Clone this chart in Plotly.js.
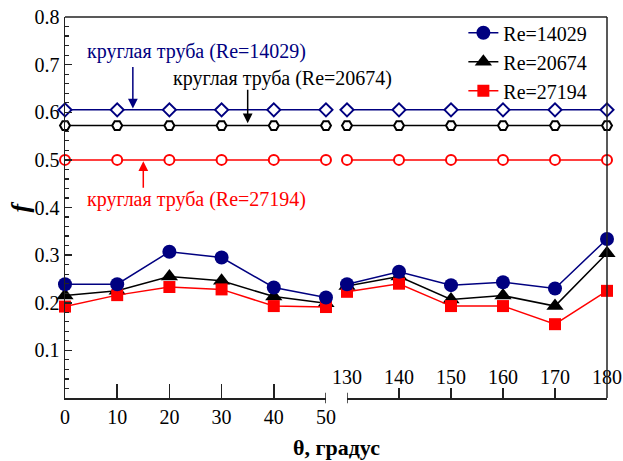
<!DOCTYPE html>
<html>
<head>
<meta charset="utf-8">
<script src="https://cdn.plot.ly/plotly-3.0.1.min.js"></script>
<style>html,body{margin:0;padding:0;background:#fff;}#chart{width:623px;height:461px;}</style>
</head>
<body>
<div id="chart"></div>
<script>
// ---- data ----
var thetaLeft = [0, 10, 20, 30, 40, 50];
var thetaRight = [130, 140, 150, 160, 170, 180];
var leftTickLabels = ['0', '10', '20', '30', '40', '50'];
var rightTickLabels = ['130', '140', '150', '160', '170', '180'];
var yTickVals = [0.1, 0.2, 0.3, 0.4, 0.5, 0.6, 0.7, 0.8];
var yTickLabels = ['0.1', '0.2', '0.3', '0.4', '0.5', '0.6', '0.7', '0.8'];

var re14029Left = [0.239, 0.239, 0.307, 0.295, 0.232, 0.211];
var re14029Right = [0.239, 0.265, 0.237, 0.243, 0.230, 0.334];
var re20674Left = [0.215, 0.225, 0.255, 0.246, 0.213, 0.199];
var re20674Right = [0.235, 0.255, 0.207, 0.215, 0.193, 0.304];
var re27194Left = [0.192, 0.216, 0.233, 0.228, 0.193, 0.191];
var re27194Right = [0.223, 0.240, 0.193, 0.193, 0.155, 0.225];

// circular pipe reference values
var pipe14029Left = [0.605, 0.605, 0.605, 0.605, 0.605, 0.605];
var pipe14029Right = [0.605, 0.605, 0.605, 0.605, 0.605, 0.605];
var pipe20674Left = [0.572, 0.572, 0.572, 0.572, 0.572, 0.572];
var pipe20674Right = [0.572, 0.572, 0.572, 0.572, 0.572, 0.572];
var pipe27194Left = [0.500, 0.500, 0.500, 0.500, 0.500, 0.500];
var pipe27194Right = [0.500, 0.500, 0.500, 0.500, 0.500, 0.500];

var seriesNames = ['Re=14029', 'Re=20674', 'Re=27194'];
var pipeLabels = ['круглая труба (Re=14029)', 'круглая труба (Re=20674)', 'круглая труба (Re=27194)'];

// ---- styles ----
var FONT = 'Liberation Serif';
var NAVY = '#000080';
var BLACK = '#000000';
var RED = '#ff0000';
var AX = '#222222';

function pipeTrace(x, y, color, symbol, xa) {
  return {
    x: x, y: y, xaxis: xa, yaxis: 'y', type: 'scatter', mode: 'lines+markers',
    showlegend: false, cliponaxis: false, hoverinfo: 'skip',
    line: {color: color, width: 1.5},
    marker: {symbol: symbol, size: 10, color: '#ffffff', line: {color: color, width: 2}}
  };
}
function dataTrace(x, y, name, color, symbol, size, xa, show, rank) {
  return {
    x: x, y: y, xaxis: xa, yaxis: 'y', type: 'scatter', mode: 'lines+markers',
    name: name, legendgroup: name, showlegend: show, legendrank: rank, cliponaxis: false,
    line: {color: color, width: 1.5},
    marker: {symbol: symbol, size: size, color: color, line: {width: 0}}
  };
}

var traces = [
  pipeTrace(thetaLeft, pipe14029Left, NAVY, 'diamond', 'x'),
  pipeTrace(thetaRight, pipe14029Right, NAVY, 'diamond', 'x2'),
  pipeTrace(thetaLeft, pipe20674Left, BLACK, 'hexagon2', 'x'),
  pipeTrace(thetaRight, pipe20674Right, BLACK, 'hexagon2', 'x2'),
  pipeTrace(thetaLeft, pipe27194Left, RED, 'circle', 'x'),
  pipeTrace(thetaRight, pipe27194Right, RED, 'circle', 'x2'),
  dataTrace(thetaLeft, re20674Left, seriesNames[1], BLACK, 'triangle-up', 15, 'x', true, 2),
  dataTrace(thetaRight, re20674Right, seriesNames[1], BLACK, 'triangle-up', 15, 'x2', false, 2),
  dataTrace(thetaLeft, re27194Left, seriesNames[2], RED, 'square', 12, 'x', true, 3),
  dataTrace(thetaRight, re27194Right, seriesNames[2], RED, 'square', 12, 'x2', false, 3),
  dataTrace(thetaLeft, re14029Left, seriesNames[0], NAVY, 'circle', 14, 'x', true, 1),
  dataTrace(thetaRight, re14029Right, seriesNames[0], NAVY, 'circle', 14, 'x2', false, 1),
  // invisible carrier for the upper tick-label axis of the right segment
  {x: [thetaRight[0], thetaRight[thetaRight.length - 1]], y: [null, null], xaxis: 'x3', yaxis: 'y',
   type: 'scatter', mode: 'markers', showlegend: false, hoverinfo: 'skip'}
];

var d1 = 0.4815, d2 = 0.5203;

var layout = {
  width: 623, height: 461,
  margin: {l: 65, r: 16, t: 17, b: 63},
  paper_bgcolor: '#ffffff', plot_bgcolor: '#ffffff',
  font: {family: FONT, size: 20, color: '#000'},
  showlegend: true,
  legend: {x: 0.735, y: 1.01, xanchor: 'left', yanchor: 'top', bgcolor: 'rgba(0,0,0,0)',
           font: {family: FONT, size: 20, color: '#000'}, tracegroupgap: 0, itemwidth: 30},
  xaxis: {
    domain: [0, d1], range: [0, 50], anchor: 'y',
    showline: true, linecolor: AX, linewidth: 1.5, showgrid: false, zeroline: false,
    tickmode: 'array', tickvals: thetaLeft, ticktext: leftTickLabels,
    ticks: 'inside', ticklen: 1, tickcolor: 'rgba(0,0,0,0)',
    minor: {tickmode: 'array', tickvals: [0, 10, 20, 30, 40], ticks: 'inside', ticklen: 14, tickwidth: 1.5, tickcolor: AX},
    tickfont: {family: FONT, size: 20, color: '#000'}
  },
  xaxis2: {
    domain: [d2, 1], range: [130, 180], anchor: 'y',
    showline: true, linecolor: AX, linewidth: 1.5, showgrid: false, zeroline: false,
    tickmode: 'array', tickvals: [140, 150, 160, 170], showticklabels: false,
    ticks: 'inside', ticklen: 10, tickwidth: 1.5, tickcolor: AX
  },
  xaxis3: {
    domain: [d2, 1], range: [130, 180], anchor: 'free', position: 0.025, side: 'top', overlaying: 'x2',
    showline: false, showgrid: false, zeroline: false,
    tickmode: 'array', tickvals: thetaRight, ticktext: rightTickLabels, ticks: '',
    tickfont: {family: FONT, size: 20, color: '#000'}
  },
  yaxis: {
    range: [0, 0.8], anchor: 'x',
    showline: true, linecolor: AX, linewidth: 1.5, showgrid: false, zeroline: false,
    tickmode: 'array', tickvals: yTickVals, ticktext: yTickLabels,
    ticks: 'inside', ticklen: 7, tickwidth: 1.5, tickcolor: AX,
    minor: {dtick: 0.02, ticks: 'inside', ticklen: 4, tickwidth: 1.2, tickcolor: AX},
    tickfont: {family: FONT, size: 20, color: '#000'}
  },
  shapes: [
    {type: 'line', xref: 'paper', yref: 'paper', x0: 0, x1: 1, y0: 1, y1: 1, line: {color: AX, width: 1.5}},
    {type: 'line', xref: 'paper', yref: 'paper', x0: 1, x1: 1, y0: 0, y1: 1, line: {color: AX, width: 1.5}},
    {type: 'line', xref: 'x', yref: 'paper', x0: 50, x1: 50, y0: -0.014, y1: 0.014, line: {color: AX, width: 1.5}},
    {type: 'line', xref: 'x2', yref: 'paper', x0: 130, x1: 130, y0: -0.014, y1: 0.014, line: {color: AX, width: 1.5}}
  ],
  annotations: [
    {xref: 'x', yref: 'y', x: 25.2, y: 0.727, text: pipeLabels[0], showarrow: false, font: {family: FONT, size: 20, color: NAVY}},
    {xref: 'x', yref: 'y', x: 41.6, y: 0.670, text: pipeLabels[1], showarrow: false, font: {family: FONT, size: 20, color: BLACK}},
    {xref: 'x', yref: 'y', x: 25.2, y: 0.416, text: pipeLabels[2], showarrow: false, font: {family: FONT, size: 20, color: RED}},
    {xref: 'x', yref: 'y', x: 13.0, y: 0.608, ax: 0, ay: -43, text: '', showarrow: true, arrowhead: 2, arrowsize: 1.3, arrowwidth: 1.5, arrowcolor: NAVY, standoff: 0},
    {xref: 'x', yref: 'y', x: 35.0, y: 0.577, ax: 0, ay: -35, text: '', showarrow: true, arrowhead: 2, arrowsize: 1.3, arrowwidth: 1.5, arrowcolor: BLACK, standoff: 0},
    {xref: 'x', yref: 'y', x: 15.0, y: 0.497, ax: 0, ay: 28, text: '', showarrow: true, arrowhead: 2, arrowsize: 1.3, arrowwidth: 1.5, arrowcolor: RED, standoff: 0},
    {xref: 'paper', yref: 'paper', x: 0.5, y: 0, yshift: -49, xanchor: 'center', yanchor: 'middle', showarrow: false,
     text: '<b>θ, градус</b>', font: {family: FONT, size: 22, color: '#000'}},
    {xref: 'paper', yref: 'paper', x: 0, y: 0.5, xshift: -45, xanchor: 'center', yanchor: 'middle', showarrow: false, textangle: -90,
     text: '<b><i>f</i></b>', font: {family: FONT, size: 26, color: '#000'}}
  ]
};

Plotly.newPlot('chart', traces, layout, {staticPlot: true, displayModeBar: false});
</script>
</body>
</html>
